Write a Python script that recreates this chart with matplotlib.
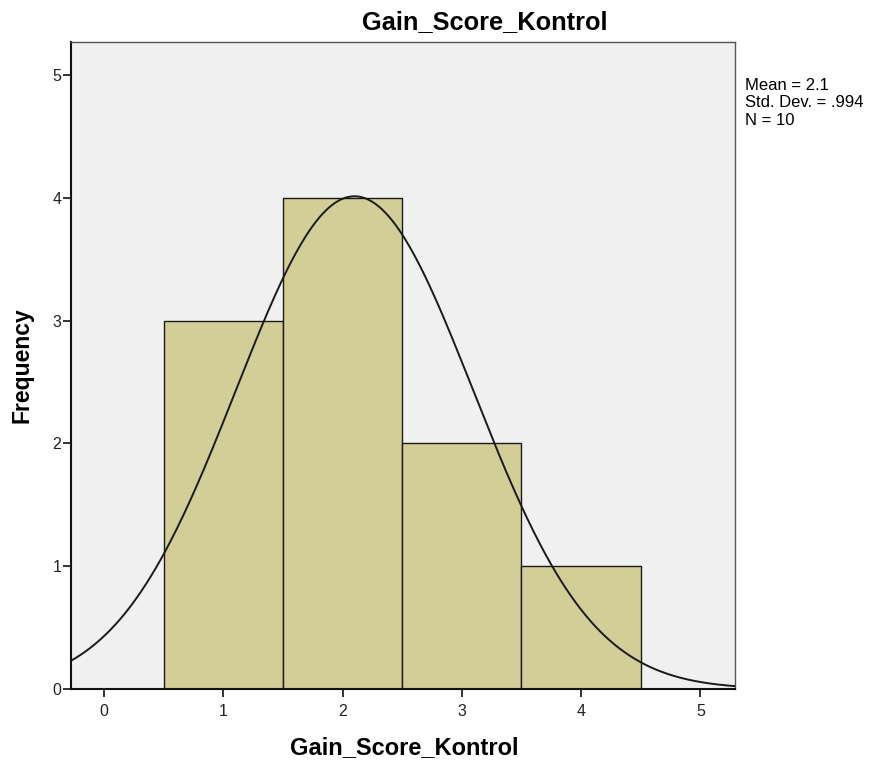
import numpy as np
import matplotlib
matplotlib.use("Agg")
import matplotlib.pyplot as plt

bin_edges = [0.5, 1.5, 2.5, 3.5, 4.5]
counts = [3, 4, 2, 1]
mean = 2.1
std = 0.994
n = 10
x_ticks = [0, 1, 2, 3, 4, 5]
y_ticks = [0, 1, 2, 3, 4, 5]

plt.rcParams['font.family'] = ['Liberation Sans', 'DejaVu Sans']

fig = plt.figure(figsize=(8.73, 7.63), dpi=100)
ax = fig.add_axes([71/873, 74/763, 664/873, 647/763])
ax.set_facecolor('#F0F0F0')

lefts = bin_edges[:-1]
widths = np.diff(bin_edges)
ax.bar(lefts, counts, width=widths, align='edge', color='#D3CE97',
       edgecolor='#1a1a1a', linewidth=1.0, zorder=2)

xs = np.linspace(-0.28, 5.29, 400)
bw = widths[0]
ys = n * bw / (std * np.sqrt(2 * np.pi)) * np.exp(-0.5 * ((xs - mean) / std) ** 2)
ax.plot(xs, ys, color='#1a1a1a', linewidth=1.4, zorder=3)

ax.set_xlim(-0.277, 5.29)
ax.set_ylim(0, 5.27)
ax.set_xticks(x_ticks)
ax.set_yticks(y_ticks)
ax.tick_params(axis='both', direction='out', length=6, width=1.3, labelsize=11.5,
               colors='#222222')
ax.tick_params(axis='x', pad=5)
ax.tick_params(axis='y', pad=1)
for s in ['top', 'right']:
    ax.spines[s].set_color('#555555')
    ax.spines[s].set_linewidth(1.0)
for s in ['left', 'bottom']:
    ax.spines[s].set_color('#111111')
    ax.spines[s].set_linewidth(1.5)

fig.text(485/873, 1 - 22/763, 'Gain_Score_Kontrol', ha='center', va='center',
         fontsize=18.3, fontweight='bold')
fig.text(404/873, 1 - 748/763, 'Gain_Score_Kontrol', ha='center', va='center',
         fontsize=17, fontweight='bold')
fig.text(22/873, 1 - 365/763, 'Frequency', ha='center', va='center',
         fontsize=16.5, fontweight='bold', rotation=90)
fig.text(745/873, 1 - 78/763,
         'Mean = %s\nStd. Dev. = %s\nN = %d' % ('2.1', '.994', n),
         ha='left', va='top', fontsize=12, linespacing=1.2)

fig.savefig('out.png', dpi=100)
